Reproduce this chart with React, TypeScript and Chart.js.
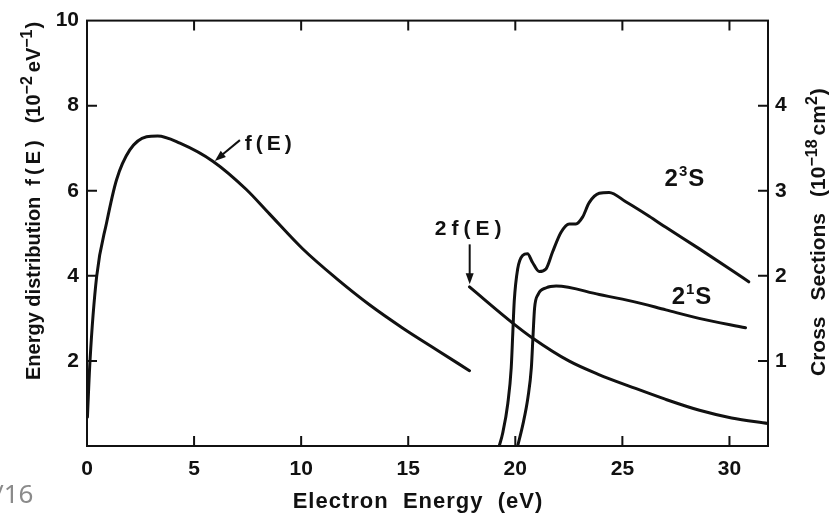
import { useEffect, useRef } from 'react';
import { Chart, registerables } from 'chart.js';

Chart.register(...registerables);

// ---- data ----
// f(E): energy distribution, left axis (10^-2 eV^-1)
const fE_energy = [0.02, 0.14, 0.45, 0.92, 1.38, 2.0, 2.78, 3.3, 4.34, 5.89, 7.44, 8.53, 10.08, 11.64, 13.19, 14.75, 16.3, 17.86];
const fE_value = [0.68, 2.0, 3.98, 5.26, 6.26, 6.96, 7.27, 7.29, 7.12, 6.69, 6.03, 5.45, 4.63, 3.94, 3.32, 2.77, 2.27, 1.77];

// 2f(E): left axis
const f2E_energy = [17.86, 19.88, 20.8, 22.5, 23.9, 25.47, 27.0, 28.6, 30.1, 31.8];
const f2E_value = [3.74, 2.89, 2.54, 2.0, 1.68, 1.38, 1.1, 0.84, 0.66, 0.53];

// 2^3S cross section, right axis (10^-18 cm^2)
const s23_energy = [19.25, 19.41, 19.65, 19.81, 19.88, 19.95, 20.11, 20.34, 20.57, 20.8, 21.12, 21.43, 21.74, 22.13, 22.52, 22.83, 23.14, 23.45, 23.92, 24.38, 25.16, 26.25, 27.03, 28.58, 30.14, 30.9];
const s23_value = [0.0, 0.15, 0.5, 0.92, 1.31, 1.7, 2.08, 2.24, 2.26, 2.16, 2.05, 2.08, 2.28, 2.51, 2.61, 2.61, 2.69, 2.86, 2.97, 2.98, 2.87, 2.7, 2.57, 2.32, 2.06, 1.93];

// 2^1S cross section, right axis
const s21_energy = [20.11, 20.36, 20.59, 20.75, 20.83, 20.9, 21.06, 21.45, 21.91, 23.92, 25.47, 27.03, 28.58, 30.75];
const s21_value = [0.0, 0.26, 0.57, 0.92, 1.31, 1.62, 1.78, 1.86, 1.88, 1.78, 1.7, 1.6, 1.5, 1.39];

// axes
const xMin = 0;
const xMax = 31.8;
const xTickValues = [0, 5, 10, 15, 20, 25, 30];
const xTickMarks = [5, 10, 15, 20, 25, 30];
const yLeftTickValues = [2, 4, 6, 8, 10];
const yLeftTickMarks = [2, 4, 6, 8];
const yRightTickValues = [1, 2, 3, 4];

const FONT = '"Liberation Sans", Arial, Helvetica, sans-serif';
const INK = '#111111';

type Seg = { t?: string; sup?: boolean; gap?: number; sp?: number };

function drawRich(
  ctx: CanvasRenderingContext2D,
  segs: Seg[],
  x: number,
  y: number,
  angle: number,
  base: number,
  sup: number,
  raise: number,
  spacing = 0
) {
  ctx.save();
  ctx.translate(x, y);
  ctx.rotate(angle);
  ctx.textAlign = 'left';
  ctx.textBaseline = 'alphabetic';
  ctx.fillStyle = INK;
  let cx = 0;
  for (const s of segs) {
    if (s.gap) {
      cx += s.gap;
      continue;
    }
    const t = s.t || '';
    (ctx as any).letterSpacing = (s.sp ?? spacing) + 'px';
    ctx.font = `bold ${s.sup ? sup : base}px ${FONT}`;
    ctx.fillText(t, cx, s.sup ? -raise : 0);
    cx += ctx.measureText(t).width;
  }
  ctx.restore();
}

function arrow(ctx: CanvasRenderingContext2D, x1: number, y1: number, x2: number, y2: number) {
  const ang = Math.atan2(y2 - y1, x2 - x1);
  const len = 11;
  const hw = 4;
  ctx.save();
  ctx.strokeStyle = INK;
  ctx.fillStyle = INK;
  ctx.lineWidth = 2;
  ctx.beginPath();
  ctx.moveTo(x1, y1);
  ctx.lineTo(x2 - Math.cos(ang) * len * 0.8, y2 - Math.sin(ang) * len * 0.8);
  ctx.stroke();
  ctx.beginPath();
  ctx.moveTo(x2, y2);
  ctx.lineTo(x2 - Math.cos(ang) * len + Math.sin(ang) * hw, y2 - Math.sin(ang) * len - Math.cos(ang) * hw);
  ctx.lineTo(x2 - Math.cos(ang) * len - Math.sin(ang) * hw, y2 - Math.sin(ang) * len + Math.cos(ang) * hw);
  ctx.closePath();
  ctx.fill();
  ctx.restore();
}

const decorPlugin = {
  id: 'decor',
  afterDraw(chart: any) {
    const ctx: CanvasRenderingContext2D = chart.ctx;
    const { left, right, top, bottom } = chart.chartArea;
    const xs = chart.scales.x;
    const yl = chart.scales.y;
    const yr = chart.scales.y2;

    // frame
    ctx.save();
    ctx.strokeStyle = INK;
    ctx.lineWidth = 2;
    ctx.strokeRect(left, top, right - left, bottom - top);

    // inward tick marks
    const tl = 10;
    ctx.beginPath();
    for (const v of xTickMarks) {
      const px = xs.getPixelForValue(v);
      ctx.moveTo(px, bottom);
      ctx.lineTo(px, bottom - tl);
      ctx.moveTo(px, top);
      ctx.lineTo(px, top + tl);
    }
    for (const v of yLeftTickMarks) {
      const py = yl.getPixelForValue(v);
      ctx.moveTo(left, py);
      ctx.lineTo(left + tl, py);
    }
    for (const v of yRightTickValues) {
      const py = yr.getPixelForValue(v);
      ctx.moveTo(right, py);
      ctx.lineTo(right - tl, py);
    }
    ctx.stroke();
    ctx.restore();

    // annotations
    drawRich(ctx, [{ t: 'f(E)' }], xs.getPixelForValue(7.37), yl.getPixelForValue(6.95), 0, 21, 14, 8, 4);
    arrow(ctx, xs.getPixelForValue(7.14), yl.getPixelForValue(7.19), xs.getPixelForValue(5.97), yl.getPixelForValue(6.7));
    drawRich(ctx, [{ t: '2f(E)' }], xs.getPixelForValue(16.24), yl.getPixelForValue(4.95), 0, 21, 14, 8, 5);
    arrow(ctx, xs.getPixelForValue(17.87), yl.getPixelForValue(4.74), xs.getPixelForValue(17.87), yl.getPixelForValue(3.8));
    drawRich(ctx, [{ t: '2' }, { t: '3', sup: true }, { t: 'S' }], xs.getPixelForValue(26.97), yr.getPixelForValue(3.06), 0, 24, 15, 10, 1);
    drawRich(ctx, [{ t: '2' }, { t: '1', sup: true }, { t: 'S' }], xs.getPixelForValue(27.3), yr.getPixelForValue(1.665), 0, 24, 15, 10, 1);

    // axis titles
    drawRich(
      ctx,
      [
        { t: 'Energy distribution' },
        { gap: 11 },
        { t: 'f(E)', sp: 4 },
        { gap: 13 },
        { t: '(10' },
        { t: '\u22122', sup: true },
        { gap: 4 },
        { t: 'eV' },
        { t: '\u22121', sup: true },
        { gap: 1 },
        { t: ')' },
      ],
      40,
      380,
      -Math.PI / 2,
      20,
      16,
      8
    );
    drawRich(
      ctx,
      [
        { t: 'Cross' },
        { gap: 16 },
        { t: 'Sections' },
        { gap: 16 },
        { t: '(10' },
        { t: '\u221218', sup: true },
        { gap: 4 },
        { t: 'cm' },
        { t: '2', sup: true },
        { gap: 1 },
        { t: ')' },
      ],
      825,
      376,
      -Math.PI / 2,
      21,
      16,
      8
    );
    ctx.save();
    ctx.font = `bold 22px ${FONT}`;
    (ctx as any).letterSpacing = '1px';
    ctx.fillStyle = INK;
    ctx.textAlign = 'center';
    ctx.textBaseline = 'alphabetic';
    ctx.fillText('Electron  Energy  (eV)', 418, 508);
    ctx.restore();

    // slide page number
    ctx.save();
    ctx.font = `26px "Noto Sans", "Open Sans", sans-serif`;
    ctx.fillStyle = '#8a8a8a';
    ctx.textAlign = 'left';
    ctx.textBaseline = 'alphabetic';
    ctx.fillText('/16', -6, 503);
    ctx.restore();
  },
};

export default function App() {
  const ref = useRef<HTMLCanvasElement | null>(null);
  useEffect(() => {
    if (!ref.current) return;
    const mk = (xs: number[], ys: number[]) => xs.map((x, i) => ({ x, y: ys[i] }));
    const line = {
      borderColor: INK,
      borderWidth: 3,
      pointRadius: 0,
      fill: false,
      cubicInterpolationMode: 'monotone' as const,
      tension: 0.4,
      borderJoinStyle: 'round' as const,
      borderCapStyle: 'round' as const,
    };
    const tickFont = { family: FONT, size: 21, weight: 'bold' as const };
    const chart = new Chart(ref.current, {
      type: 'line',
      data: {
        datasets: [
          { label: 'f(E)', data: mk(fE_energy, fE_value), yAxisID: 'y', ...line },
          { label: '2f(E)', data: mk(f2E_energy, f2E_value), yAxisID: 'y', ...line },
          { label: '2³S', data: mk(s23_energy, s23_value), yAxisID: 'y2', ...line },
          { label: '2¹S', data: mk(s21_energy, s21_value), yAxisID: 'y2', ...line },
        ],
      },
      options: {
        animation: false,
        responsive: false,
        devicePixelRatio: 1,
        layout: { padding: { top: 16, left: 0, right: 0, bottom: 0 } },
        plugins: { legend: { display: false }, tooltip: { enabled: false } },
        scales: {
          x: {
            type: 'linear',
            min: xMin,
            max: xMax,
            afterBuildTicks: (s: any) => {
              s.ticks = xTickValues.map((v) => ({ value: v }));
            },
            afterFit: (s: any) => {
              s.height = 67;
            },
            grid: { display: false, drawTicks: false },
            border: { display: false },
            ticks: { font: tickFont, color: INK, padding: 11, maxRotation: 0, autoSkip: false },
          },
          y: {
            type: 'linear',
            position: 'left',
            min: 0,
            max: 10,
            afterBuildTicks: (s: any) => {
              s.ticks = yLeftTickValues.map((v) => ({ value: v }));
            },
            afterFit: (s: any) => {
              s.width = 87;
            },
            grid: { display: false, drawTicks: false },
            border: { display: false },
            ticks: { font: tickFont, color: INK, padding: 8, autoSkip: false },
          },
          y2: {
            type: 'linear',
            position: 'right',
            min: 0,
            max: 5,
            afterBuildTicks: (s: any) => {
              s.ticks = yRightTickValues.map((v) => ({ value: v }));
            },
            afterFit: (s: any) => {
              s.width = 65;
            },
            grid: { display: false, drawTicks: false },
            border: { display: false },
            ticks: { font: tickFont, color: INK, padding: 7, autoSkip: false },
          },
        },
      },
      plugins: [decorPlugin],
    });
    return () => chart.destroy();
  }, []);
  return (
    <div style={{ position: 'fixed', left: 0, top: 0, width: 833, height: 513, background: '#fff' }}>
      <canvas ref={ref} width={833} height={513} style={{ display: 'block', width: 833, height: 513 }} />
    </div>
  );
}
